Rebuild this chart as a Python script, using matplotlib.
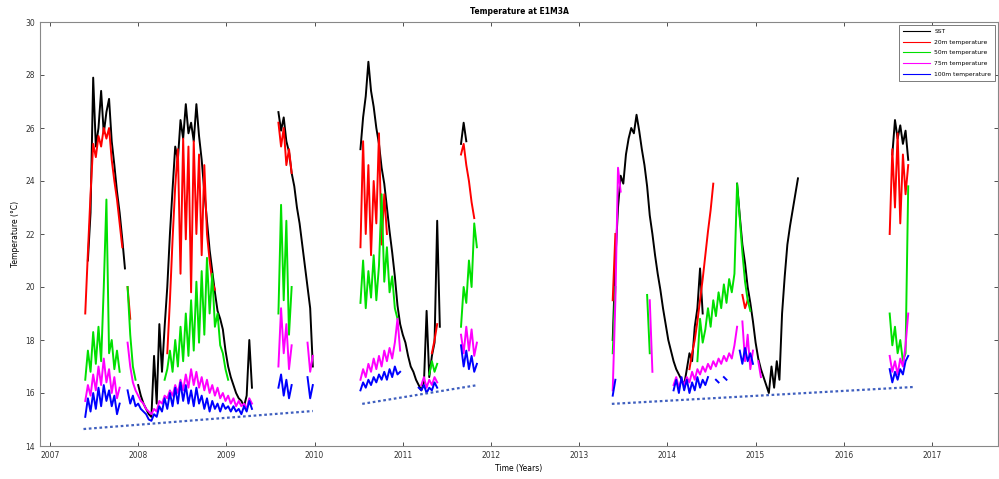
import matplotlib
matplotlib.use('Agg')
import matplotlib.pyplot as plt
import numpy as np

nan = np.nan
step = 0.03  # sampling step of the hand-read values, in years

# start year of each deployment (values below are read every `step` years)
start_a, start_b, start_c, start_d, start_e, start_f = 2007.40, 2009.59, 2010.52, 2011.66, 2013.38, 2016.52

# deployment A: 2007.4 - 2009.3
sst_a = [nan, 21.0, 22.8, 27.9, 25.3, 26.0, 27.4, 25.8, 26.6, 27.1,
         25.5, 24.6, 23.6, 22.8, 21.8, 20.7, nan, nan, nan, nan,
         16.3, 15.9, 15.6, 15.4, 15.2, 15.1, 17.4, 15.6, 18.6, 16.8,
         18.5, 20.0, 22.0, 23.7, 25.3, 24.8, 26.3, 25.6, 26.9, 25.8,
         26.2, 25.5, 26.9, 25.7, 24.8, 23.6, 22.5, 21.4, 20.6, 19.8,
         19.1, 18.8, 18.4, 17.6, 17.0, 16.6, 16.3, 16.0, 15.8, 15.7,
         15.5, 15.9, 18.0, 16.2]
t20_a = [19.0, 21.3, 23.5, 25.4, 24.9, 25.7, 25.3, 26.0, 25.6, 26.0,
         24.8, 24.0, 23.3, 22.4, 21.5, nan, 20.0, 18.8, nan, nan] + [nan] * 10 + \
        [nan, 17.5, 19.5, 21.8, 23.8, 25.2, 20.5, 25.6, 21.8, 25.3,
         19.8, 25.5, 22.0, 25.0, 21.2, 24.6, 22.0, 21.0, 20.2, 19.9] + [nan] * 14
t50_a = [16.5, 17.6, 16.8, 18.3, 17.1, 18.5, 17.2, 20.0, 23.3, 17.5,
         18.0, 16.9, 17.6, 16.8, nan, nan, 20.0, 18.2, 17.0, 16.5] + [nan] * 10 + \
        [16.5, 16.9, 17.6, 16.8, 18.0, 17.0, 18.5, 17.2, 19.0, 17.4,
         19.5, 17.6, 20.2, 17.9, 20.6, 18.2, 21.1, 19.0, 20.5, 18.5,
         19.0, 17.8, 17.5, 16.9, 16.5] + [nan] * 9
t75_a = [15.7, 16.3, 15.9, 16.7, 16.1, 17.0, 16.3, 17.3, 16.4, 16.9,
         16.0, 16.6, 15.8, 16.2, nan, nan, 17.9, 17.0, 16.4, 16.1,
         15.9, 15.7, 15.6, 15.4, 15.3, 15.2, 15.4, 15.3, 15.7, 15.6,
         15.9, 15.8, 16.1, 15.9, 16.3, 16.0, 16.5, 16.1, 16.7, 16.2,
         16.9, 16.3, 16.8, 16.2, 16.6, 16.1, 16.5, 16.0, 16.3, 15.9,
         16.2, 15.8, 16.0, 15.7, 15.9, 15.6, 15.8, 15.5, 15.7, 15.5,
         15.6, 15.4, 15.8, 15.6]
t100_a = [15.1, 15.8, 15.3, 16.0, 15.4, 16.2, 15.5, 16.3, 15.7, 16.1,
          15.5, 15.9, 15.2, 15.6, nan, nan, 16.1, 15.6, 15.9, 15.5,
          15.6, 15.4, 15.3, 15.2, 15.0, 14.95, 15.2, 15.1, 15.5, 15.3,
          15.8, 15.4, 16.0, 15.5, 16.2, 15.6, 16.4, 15.7, 16.3, 15.6,
          16.1, 15.5, 16.2, 15.6, 15.9, 15.4, 15.8, 15.3, 15.7, 15.4,
          15.6, 15.3, 15.6, 15.4, 15.5, 15.3, 15.5, 15.3, 15.4, 15.2,
          15.5, 15.3, 15.7, 15.4]

# deployment B: 2009.6 - 2010.0
sst_b = [26.6, 25.9, 26.4, 25.5, 25.1, 24.3, 23.8, 23.0, 22.4, 21.6, 20.8, 20.0, 19.2, 17.0]
t20_b = [26.2, 25.3, 26.0, 24.6, 25.2, 24.3] + [nan] * 8
t50_b = [19.0, 23.1, 19.5, 22.5, 18.2, 20.0] + [nan] * 8
t75_b = [17.0, 19.2, 17.5, 18.6, 16.9, 17.8] + [nan] * 5 + [17.9, 16.8, 17.4]
t100_b = [16.2, 16.7, 15.9, 16.5, 15.8, 16.3] + [nan] * 5 + [16.6, 15.8, 16.3]

# deployment C: 2010.5 - 2011.45
sst_c = [25.2, 26.4, 27.2, 28.5, 27.4, 26.8, 26.0, 25.4, 24.5, 23.9,
         23.0, 22.1, 21.3, 20.4, 19.3, 18.6, 18.2, 17.9, 17.4, 17.0,
         16.8, 16.5, 16.3, 16.1, 16.4, 19.1, 16.6, 17.4, 17.9, 22.5, 18.5]
t20_c = [21.5, 25.5, 22.0, 24.6, 21.2, 24.0, 22.4, 25.8, 21.6, 23.5, 22.0] + [nan] * 16 + \
        [17.5, 18.0, 18.6, nan]
t50_c = [19.4, 21.0, 19.2, 20.6, 19.6, 21.2, 19.5, 20.8, 23.5, 20.2,
         21.5, 19.8, 20.4, 19.2, 18.8] + [nan] * 11 + [16.7, 17.2, 16.8, 17.1, nan]
t75_c = [16.5, 16.9, 16.6, 17.1, 16.8, 17.3, 16.9, 17.4, 17.0, 17.6,
         17.2, 17.7, 17.3, 17.9, 18.8, 17.6] + [nan] * 7 + \
        [16.3, 16.6, 16.2, 16.5, 16.3, 16.6, 16.4, nan]
t100_c = [16.1, 16.4, 16.2, 16.5, 16.3, 16.6, 16.4, 16.7, 16.5, 16.8,
          16.5, 16.9, 16.6, 17.0, 16.7, 16.8] + [nan] * 6 + \
         [16.2, 16.1, 16.3, 16.0, 16.2, 16.1, 16.4, 16.2, nan]

# deployment D: 2011.65 - 2011.85
sst_d = [25.4, 26.2, 25.5, nan, nan, nan, nan]
t20_d = [25.0, 25.4, 24.6, 24.0, 23.2, 22.6, nan]
t50_d = [18.5, 20.0, 19.4, 21.0, 20.0, 22.4, 21.5]
t75_d = [18.2, 17.5, 18.5, 17.6, 18.4, 17.4, 17.9]
t100_d = [17.8, 17.0, 17.6, 16.9, 17.4, 16.8, 17.1]

# deployment E: 2013.4 - 2015.5
sst_e = [18.0, 21.0, 23.0, 24.2, 23.9, 25.0, 25.6, 26.0, 25.8, 26.5,
         25.9, 25.2, 24.6, 23.8, 22.7, 22.0, 21.2, 20.5, 19.9, 19.2,
         18.6, 18.0, 17.6, 17.2, 16.9, 16.7, 16.5, 16.3, 16.9, 17.5,
         17.2, 18.5, 19.2, 20.7, 19.0] + [nan] * 12 + \
        [23.9, 22.7, 21.6, 20.9, 20.0, 19.4, 18.7, 17.9, 17.3, 16.9,
         16.6, 16.3, 16.0, 17.0, 16.2, 17.2, 16.5, 19.0, 20.4, 21.6,
         22.3, 22.9, 23.5, 24.1, nan]
t20_e = [19.5, 22.0] + [nan] * 27 + \
        [16.9, 17.5, 18.0, 18.7, 19.5, 20.3, 21.2, 22.1, 22.9, 23.9] + [nan] * 10 + \
        [19.7, 19.2, 19.5] + [nan] * 20
t50_e = [17.5, 20.0] + [nan] * 11 + [19.7, 17.5] + [nan] * 17 + \
        [17.2, 18.8, 17.9, 18.4, 19.2, 18.5, 19.5, 18.9, 19.8, 19.2,
         20.1, 19.4, 20.3, 19.8, 20.5, 23.9, 22.6, 21.3, 20.2, 19.5, 19.1] + [nan] * 19
t75_e = [16.1, 19.5, 24.5, 23.6] + [nan] * 10 + [19.5, 16.8] + [nan] * 7 + \
        [16.3, 16.6, 16.2, 16.5, 16.3, 16.6, 16.4, 16.8, 16.5, 16.9,
         16.7, 17.0, 16.8, 17.1, 16.9, 17.2, 17.0, 17.3, 17.1, 17.4,
         17.2, 17.5, 17.3, 17.8, 18.5, nan, 18.7, 17.2, 18.2, 16.9,
         17.6, nan, 17.2, 16.6] + [nan] * 15
t100_e = [15.9, 16.5] + [nan] * 21 + \
         [16.1, 16.5, 16.0, 16.6, 16.1, 16.5, 16.0, 16.4, 16.1, 16.6,
          16.2, 16.5, 16.3, 16.6, nan, nan, 16.5, 16.4, nan, 16.6, 16.5] + [nan] * 4 + \
         [17.6, 17.1, 17.7, 17.2, 17.5, 17.1] + [nan] * 18

# deployment F: 2016.5 - 2016.75
sst_f = [nan, 25.0, 26.3, 25.6, 26.1, 25.4, 25.9, 24.8]
t20_f = [22.0, 25.2, 23.0, 25.8, 22.4, 25.0, 23.5, 24.6]
t50_f = [19.0, 17.8, 18.5, 17.5, 18.0, 17.2, 17.5, 23.8]
t75_f = [17.4, 16.8, 17.2, 16.7, 17.3, 17.0, 17.8, 19.0]
t100_f = [16.9, 16.4, 16.8, 16.5, 16.9, 16.7, 17.2, 17.4]

# dotted trend segments for each mooring period
trend_t0 = [2007.38, 2010.54, 2013.37]
trend_t1 = [2009.98, 2011.85, 2016.81]
trend_v0 = [14.64, 15.59, 15.59]
trend_v1 = [15.32, 16.30, 16.23]

starts = [start_a, start_b, start_c, start_d, start_e, start_f]
series = [
    ('SST', 'k', [sst_a, sst_b, sst_c, sst_d, sst_e, sst_f]),
    ('20m temperature', '#ff0000', [t20_a, t20_b, t20_c, t20_d, t20_e, t20_f]),
    ('50m temperature', '#00e000', [t50_a, t50_b, t50_c, t50_d, t50_e, t50_f]),
    ('75m temperature', '#ff00ff', [t75_a, t75_b, t75_c, t75_d, t75_e, t75_f]),
    ('100m temperature', '#0000ff', [t100_a, t100_b, t100_c, t100_d, t100_e, t100_f]),
]

fig = plt.figure(figsize=(9.99, 4.79), dpi=100)
ax = fig.add_axes([40 / 999, 33 / 479, 958 / 999, 424 / 479])

for label, color, segs in series:
    tt, vv = [], []
    for s0, vals in zip(starts, segs):
        tt.append(s0 + step * np.arange(len(vals)))
        vv.append(np.array(vals, dtype=float))
        tt.append([nan])
        vv.append([nan])
    ax.plot(np.concatenate(tt), np.concatenate(vv), color=color, lw=1.4, label=label)

for a, b, c, d in zip(trend_t0, trend_t1, trend_v0, trend_v1):
    ax.plot([a, b], [c, d], color='#3f5fbf', lw=1.6, ls=(0, (1.2, 1.2)))

ax.set_xlim(2006.887, 2017.748)
ax.set_ylim(14, 30)
ax.set_xticks(range(2007, 2018))
ax.set_yticks(range(14, 31, 2))
ax.tick_params(direction='in', length=3, width=0.6, labelsize=5.5, colors='#333333',
               top=True, right=True, labelright=False, labeltop=False)
for sp in ax.spines.values():
    sp.set_color('#888888')
    sp.set_linewidth(0.8)

ax.set_title('Temperature at E1M3A', fontsize=5.5, fontweight='bold', pad=6)
ax.set_xlabel('Time (Years)', fontsize=5.5, labelpad=3)
ax.set_ylabel('Temperature (\u00b0C)', fontsize=5.5, labelpad=4)

leg = ax.legend(loc='upper right', fontsize=4.3, handlelength=4.5, borderaxespad=0.5,
                fancybox=False, framealpha=1, edgecolor='#666666', labelspacing=0.95,
                borderpad=0.6)
leg.get_frame().set_linewidth(0.6)
for line in leg.get_lines():
    line.set_linewidth(0.8)

fig.savefig('out.png', dpi=100)
